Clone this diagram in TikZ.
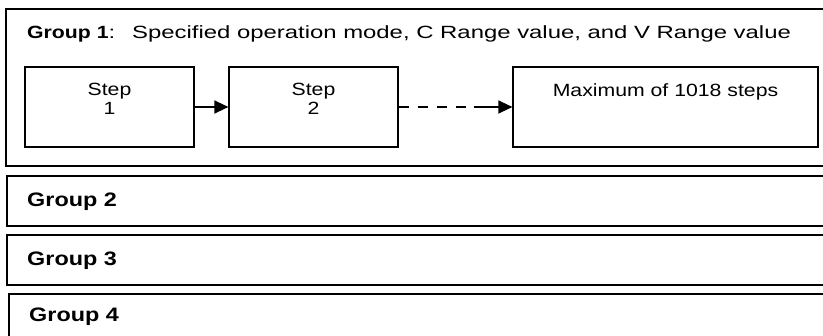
\documentclass[tikz,border=0pt]{standalone}
\usepackage{fontspec}
\setmainfont{Liberation Sans}[FakeStretch=1.2]
\newfontfamily\widefont{Liberation Sans}[FakeStretch=1.35]
\usetikzlibrary{arrows.meta}

\begin{document}
\begin{tikzpicture}[x=1pt,y=-1pt,>={Triangle[length=14pt,width=13pt]},
  every node/.append style={font=\fontsize{17.7}{19}\selectfont,inner sep=0pt},
  groupbox/.style={line width=2.2pt},
  grouplabel/.style={anchor=base west,font=\fontsize{19.5}{20}\selectfont\bfseries},
  stepbox/.style={draw,line width=1.2pt,minimum width=169pt,minimum height=80pt}]
  \useasboundingbox (0,0) rectangle (823,336);
  \clip (0,0) rectangle (823,336);

  % the four groups, cut off at the right edge
  \draw[groupbox] (6,9) rectangle (840,166);
  \draw[groupbox] (7,176) rectangle (840,226);
  \draw[groupbox] (7,235) rectangle (840,285);
  \draw[groupbox] (9,294) rectangle (840,350);

  \node[anchor=base west] (title) at (27,39)
    {\textbf{Group 1}\widefont:\hspace{8pt} Specified operation mode, C Range value, and V Range value};

  \node[stepbox] (step1) at (109.5,107) {};
  \node[stepbox] (step2) at (313.5,107) {};
  \node[stepbox,minimum width=305pt] (stepmax) at (665.5,107) {};

  \node[anchor=base,align=center] (lbl1) at (109.5,115) {Step\\1};
  \node[anchor=base,align=center] (lbl2) at (313.5,115) {Step\\2};
  \node[anchor=base] (lblmax) at (665.5,97) {Maximum of 1018 steps};

  \draw[->,line width=1.3pt] (step1) -- (step2);
  \draw[->,line width=1.3pt,dash pattern=on 10pt off 9pt on 10pt off 9pt on 10pt off 9pt on 10pt off 8pt on 60pt]
    (step2) -- (stepmax);

  \node[grouplabel] (grp2) at (27,207) {Group 2};
  \node[grouplabel] (grp3) at (27,266) {Group 3};
  \node[grouplabel] (grp4) at (29,322) {Group 4};
\end{tikzpicture}
\end{document}
